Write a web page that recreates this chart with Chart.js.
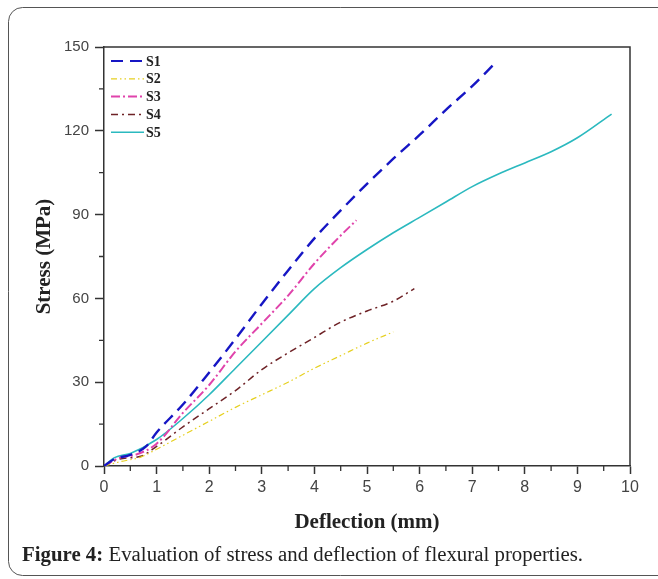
<!DOCTYPE html>
<html>
<head>
<meta charset="utf-8">
<script src="https://cdn.jsdelivr.net/npm/chart.js@4"></script>
<style>
html,body{margin:0;padding:0;background:#fff;}
#wrap{width:658px;height:579px;position:relative;}
</style>
</head>
<body>
<div id="wrap"><canvas id="c" width="658" height="579"></canvas></div>
<script>
// ---- data ----
const seriesNames = ["S1", "S2", "S3", "S4", "S5"];

const s1Deflection = [0, 0.2, 0.5, 0.8, 1.0, 1.5, 2.0, 2.5, 3.0, 3.5, 4.0, 4.5, 5.0, 5.5, 6.0, 6.5, 7.0, 7.45];
const s1Stress     = [0, 2.5, 4, 7, 12, 22, 33.5, 45.5, 58, 70, 81.5, 91.5, 101, 110, 118.5, 127.5, 136, 144.5];

const s2Deflection = [0, 0.3, 0.7, 1.0, 1.5, 2.0, 2.5, 3.0, 3.5, 4.0, 4.5, 5.0, 5.5];
const s2Stress     = [0, 1.5, 3.2, 6, 11, 16, 21, 25.5, 30, 35, 39.5, 44, 48];

const s3Deflection = [0, 0.3, 0.6, 1.0, 1.5, 2.0, 2.5, 3.0, 3.5, 4.0, 4.5, 4.8];
const s3Stress     = [0, 3, 4, 8, 19, 29, 41, 51, 61, 72.5, 82.5, 88];

const s4Deflection = [0, 0.3, 0.7, 1.0, 1.5, 2.0, 2.5, 3.0, 3.5, 4.0, 4.5, 5.0, 5.5, 5.9];
const s4Stress     = [0, 2.5, 3.5, 7, 14, 20.5, 27, 34.5, 40.5, 46, 51.5, 55.5, 59, 63.5];

const s5Deflection = [0, 0.2, 0.5, 1.0, 1.5, 2.0, 2.5, 3.0, 3.5, 4.0, 4.5, 5.0, 5.5, 6.0, 6.5, 7.0, 7.5, 8.0, 8.5, 9.0, 9.65];
const s5Stress     = [0, 3, 4.5, 9.5, 17, 25.5, 35, 44.5, 54, 63.5, 71, 77.5, 83.5, 89, 94.5, 100, 104.5, 108.5, 112.5, 117.5, 126];

const xTickValues = [0, 1, 2, 3, 4, 5, 6, 7, 8, 9, 10];
const yTickValues = [0, 30, 60, 90, 120, 150];

const xTitle = "Deflection (mm)";
const yTitle = "Stress (MPa)";
const captionBold = "Figure 4:";
const captionText = " Evaluation of stress and deflection of flexural properties.";

// ---- build datasets ----
function pts(xs, ys) { return xs.map((x, i) => ({ x: x, y: ys[i] })); }
const styles = [
  { color: "#1616c4", dash: [12, 7], width: 2.4 },
  { color: "#e6d020", dash: [6, 3, 1.5, 3, 1.5, 3], width: 1.2 },
  { color: "#e043ab", dash: [9, 3, 2, 3], width: 2 },
  { color: "#6e2226", dash: [7, 4, 2, 4], width: 1.5 },
  { color: "#2bb9bf", dash: [], width: 1.6 }
];
const allData = [
  pts(s1Deflection, s1Stress),
  pts(s2Deflection, s2Stress),
  pts(s3Deflection, s3Stress),
  pts(s4Deflection, s4Stress),
  pts(s5Deflection, s5Stress)
];
const datasets = seriesNames.map((n, i) => ({
  label: n,
  data: allData[i],
  showLine: true,
  borderColor: styles[i].color,
  backgroundColor: styles[i].color,
  borderDash: styles[i].dash,
  borderWidth: styles[i].width,
  pointRadius: 0,
  cubicInterpolationMode: "monotone",
  fill: false
}));

const AXIS = "#333333";

const decor = {
  id: "decor",
  beforeDraw(chart) {
    const ctx = chart.ctx;
    ctx.save();
    ctx.strokeStyle = "#555";
    ctx.lineWidth = 1;
    const x0 = 8.5, y0 = 7.5, x1 = 672, y1 = 575.5, r = 14;
    ctx.beginPath();
    ctx.moveTo(x1, y0);
    ctx.lineTo(x0 + r, y0);
    ctx.arcTo(x0, y0, x0, y0 + r, r);
    ctx.lineTo(x0, y1 - r);
    ctx.arcTo(x0, y1, x0 + r, y1, r);
    ctx.lineTo(x1, y1);
    ctx.stroke();
    ctx.restore();
  },
  afterDraw(chart) {
    const ctx = chart.ctx;
    const a = chart.chartArea;
    const xs = chart.scales.x, ys = chart.scales.y;
    ctx.save();
    ctx.strokeStyle = AXIS;
    ctx.lineWidth = 1.5;
    ctx.beginPath();
    ctx.moveTo(a.left, a.top);
    ctx.lineTo(a.right, a.top);
    ctx.lineTo(a.right, a.bottom);
    ctx.stroke();
    // minor ticks
    ctx.lineWidth = 1.3;
    ctx.beginPath();
    for (let i = 0; i < xTickValues.length - 1; i++) {
      const v = (xTickValues[i] + xTickValues[i + 1]) / 2;
      const px = xs.getPixelForValue(v);
      ctx.moveTo(px, a.bottom);
      ctx.lineTo(px, a.bottom + 5);
    }
    for (let i = 0; i < yTickValues.length - 1; i++) {
      const v = (yTickValues[i] + yTickValues[i + 1]) / 2;
      const py = ys.getPixelForValue(v);
      ctx.moveTo(a.left, py);
      ctx.lineTo(a.left - 5, py);
    }
    ctx.stroke();

    // legend inside plot
    chart.data.datasets.forEach((ds, i) => {
      const y = 61 + i * 17.8;
      ctx.strokeStyle = ds.borderColor;
      ctx.lineWidth = Math.min(ds.borderWidth, 2);
      ctx.setLineDash(ds.borderDash);
      ctx.beginPath();
      ctx.moveTo(111, y);
      ctx.lineTo(144, y);
      ctx.stroke();
      ctx.setLineDash([]);
      ctx.fillStyle = "#222";
      ctx.font = "bold 14px 'Liberation Serif'";
      ctx.textBaseline = "middle";
      ctx.textAlign = "left";
      ctx.fillText(ds.label, 146, y + 1);
    });

    // caption
    ctx.fillStyle = "#222";
    ctx.textBaseline = "alphabetic";
    ctx.textAlign = "left";
    const fs = 20;
    ctx.font = "bold " + fs + "px 'Liberation Serif'";
    const wb = ctx.measureText(captionBold).width;
    ctx.font = fs + "px 'Liberation Serif'";
    const wt = ctx.measureText(captionText).width;
    const target = 561;
    const sx = target / (wb + wt);
    ctx.translate(22, 561);
    ctx.scale(sx, 1);
    ctx.font = "bold " + fs + "px 'Liberation Serif'";
    ctx.fillText(captionBold, 0, 0);
    ctx.font = fs + "px 'Liberation Serif'";
    ctx.fillText(captionText, wb, 0);
    ctx.restore();
  }
};

new Chart(document.getElementById("c"), {
  type: "scatter",
  data: { datasets: datasets },
  options: {
    responsive: false,
    animation: false,
    devicePixelRatio: 1,
    layout: { padding: { left: 0, top: 47, right: 28, bottom: 43 } },
    plugins: { legend: { display: false }, tooltip: { enabled: false } },
    scales: {
      x: {
        type: "linear",
        min: 0, max: 10,
        afterFit(s) { s.height = 70; },
        afterBuildTicks(s) { s.ticks = xTickValues.map(v => ({ value: v })); },
        ticks: { color: "#444", font: { family: "'Liberation Sans'", size: 16 }, padding: 4, maxRotation: 0 },
        grid: { display: true, drawOnChartArea: false, drawTicks: true, tickLength: 8, tickColor: AXIS, tickWidth: 1.5 },
        border: { display: true, color: AXIS, width: 1.5 },
        title: { display: true, text: xTitle, color: "#222", font: { family: "'Liberation Serif'", size: 21, weight: "bold" }, padding: { top: 0, bottom: 1 } }
      },
      y: {
        type: "linear",
        min: 0, max: 150,
        afterFit(s) { s.width = 104; },
        afterBuildTicks(s) { s.ticks = yTickValues.map(v => ({ value: v })); },
        ticks: { color: "#444", font: { family: "'Liberation Sans'", size: 15 }, padding: 6 },
        grid: { display: true, drawOnChartArea: false, drawTicks: true, tickLength: 9, tickColor: AXIS, tickWidth: 1.5 },
        border: { display: true, color: AXIS, width: 1.5 },
        title: { display: true, text: yTitle, color: "#222", font: { family: "'Liberation Serif'", size: 21, weight: "bold" }, padding: { top: 32, bottom: 0 } }
      }
    }
  },
  plugins: [decor]
});
</script>
</body>
</html>
